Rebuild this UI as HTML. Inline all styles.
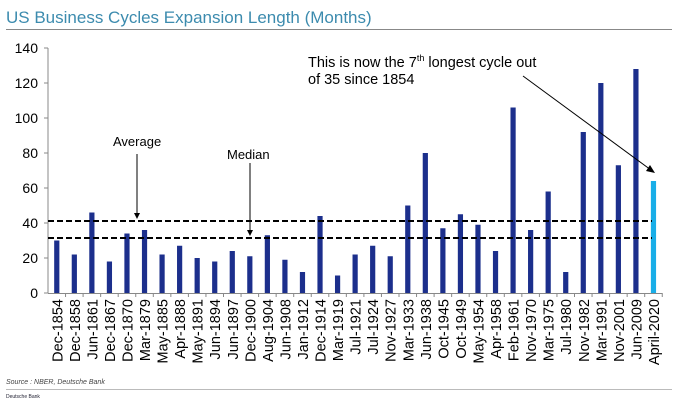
<!DOCTYPE html>
<html><head><meta charset="utf-8"><style>
body{margin:0;background:#fff;width:680px;height:401px;overflow:hidden;font-family:"Liberation Sans",sans-serif}
</style></head><body>
<svg width="680" height="401" xmlns="http://www.w3.org/2000/svg">
<text x="6" y="23" font-size="17" fill="#3c8bae">US Business Cycles Expansion Length (Months)</text>
<line x1="6" y1="29.5" x2="672" y2="29.5" stroke="#888" stroke-width="1"/>
<g id="axes"></g>
<g id="bars"></g>
<g id="labels"></g>
<line x1="48" y1="221" x2="652" y2="221" stroke="#000" stroke-width="2" stroke-dasharray="6,3"/>
<line x1="48" y1="238" x2="652" y2="238" stroke="#000" stroke-width="2" stroke-dasharray="6,3"/>
<text x="113" y="146" font-size="13">Average</text>
<line x1="137" y1="154" x2="137" y2="214" stroke="#000" stroke-width="1"/>
<polygon points="134,213 140,213 137,219" fill="#000"/>
<text x="227" y="159" font-size="13">Median</text>
<line x1="250" y1="163" x2="250" y2="231" stroke="#000" stroke-width="1"/>
<polygon points="247,230 253,230 250,236" fill="#000"/>
<text x="308" y="67" font-size="14.5">This is now the 7<tspan font-size="9" dy="-6">th</tspan><tspan dy="6"> longest cycle out</tspan></text>
<text x="308" y="84" font-size="14.5">of 35 since 1854</text>
<line x1="523" y1="76" x2="651" y2="170" stroke="#000" stroke-width="1"/>
<polygon points="655,173 646,171 650,165" fill="#000"/>
<text x="6" y="384" font-size="7" font-style="italic" fill="#444">Source : NBER, Deutsche Bank</text>
<line x1="6" y1="389.5" x2="672" y2="389.5" stroke="#bbb" stroke-width="1"/>
<text x="6" y="398" font-size="5" fill="#223">Deutsche Bank</text>
</svg>
<script>
const categories=["Dec-1854","Dec-1858","Jun-1861","Dec-1867","Dec-1870","Mar-1879","May-1885","Apr-1888","May-1891","Jun-1894","Jun-1897","Dec-1900","Aug-1904","Jun-1908","Jan-1912","Dec-1914","Mar-1919","Jul-1921","Jul-1924","Nov-1927","Mar-1933","Jun-1938","Oct-1945","Oct-1949","May-1954","Apr-1958","Feb-1961","Nov-1970","Mar-1975","Jul-1980","Nov-1982","Mar-1991","Nov-2001","Jun-2009","April-2020"];
const months=[30,22,46,18,34,36,22,27,20,18,24,21,33,19,12,44,10,22,27,21,50,80,37,45,39,24,106,36,58,12,92,120,73,128,64];
const yTicks=[0,20,40,60,80,100,120,140];
const NS="http://www.w3.org/2000/svg";
const x0=48,step=17.55,yZero=293,pxPer=1.75;
const yS=v=>yZero-v*pxPer;
const xS=i=>x0+step*(i+0.5);
function mk(t,a,p){const e=document.createElementNS(NS,t);for(const k in a)e.setAttribute(k,a[k]);p.appendChild(e);return e;}
const ax=document.getElementById('axes'),bg=document.getElementById('bars'),lg=document.getElementById('labels');
let yl=mk('line',{x1:x0,y1:yS(140),x2:x0,y2:yZero,stroke:'#888'},ax);


let xl=mk('line',{x1:x0,y1:yZero+.5,x2:x0+step*categories.length,y2:yZero+.5,stroke:'#888'},ax);


yTicks.forEach(v=>{
 mk('line',{x1:x0-4,y1:yS(v),x2:x0,y2:yS(v),stroke:'#888'},ax);
 const t=mk('text',{x:x0-10,y:yS(v)+5,'font-size':14,'text-anchor':'end'},ax);t.textContent=v;
 
 
});
categories.forEach((c,i)=>{
 mk('line',{x1:x0+step*(i+1),y1:yZero,x2:x0+step*(i+1),y2:yZero+4,stroke:'#888'},ax);
 const b=mk('rect',{x:xS(i)-2.6,y:yS(months[i]),width:5.2,height:months[i]*pxPer,fill:i===categories.length-1?'#19aee8':'#1c2f8c'},bg);
 
 
 const t=mk('text',{x:0,y:0,'font-size':14.5,'text-anchor':'end',transform:`translate(${xS(i)+5.5},${yZero+6}) rotate(-90)`},lg);
 t.textContent=c;
 
 
});
</script>
</body></html>
